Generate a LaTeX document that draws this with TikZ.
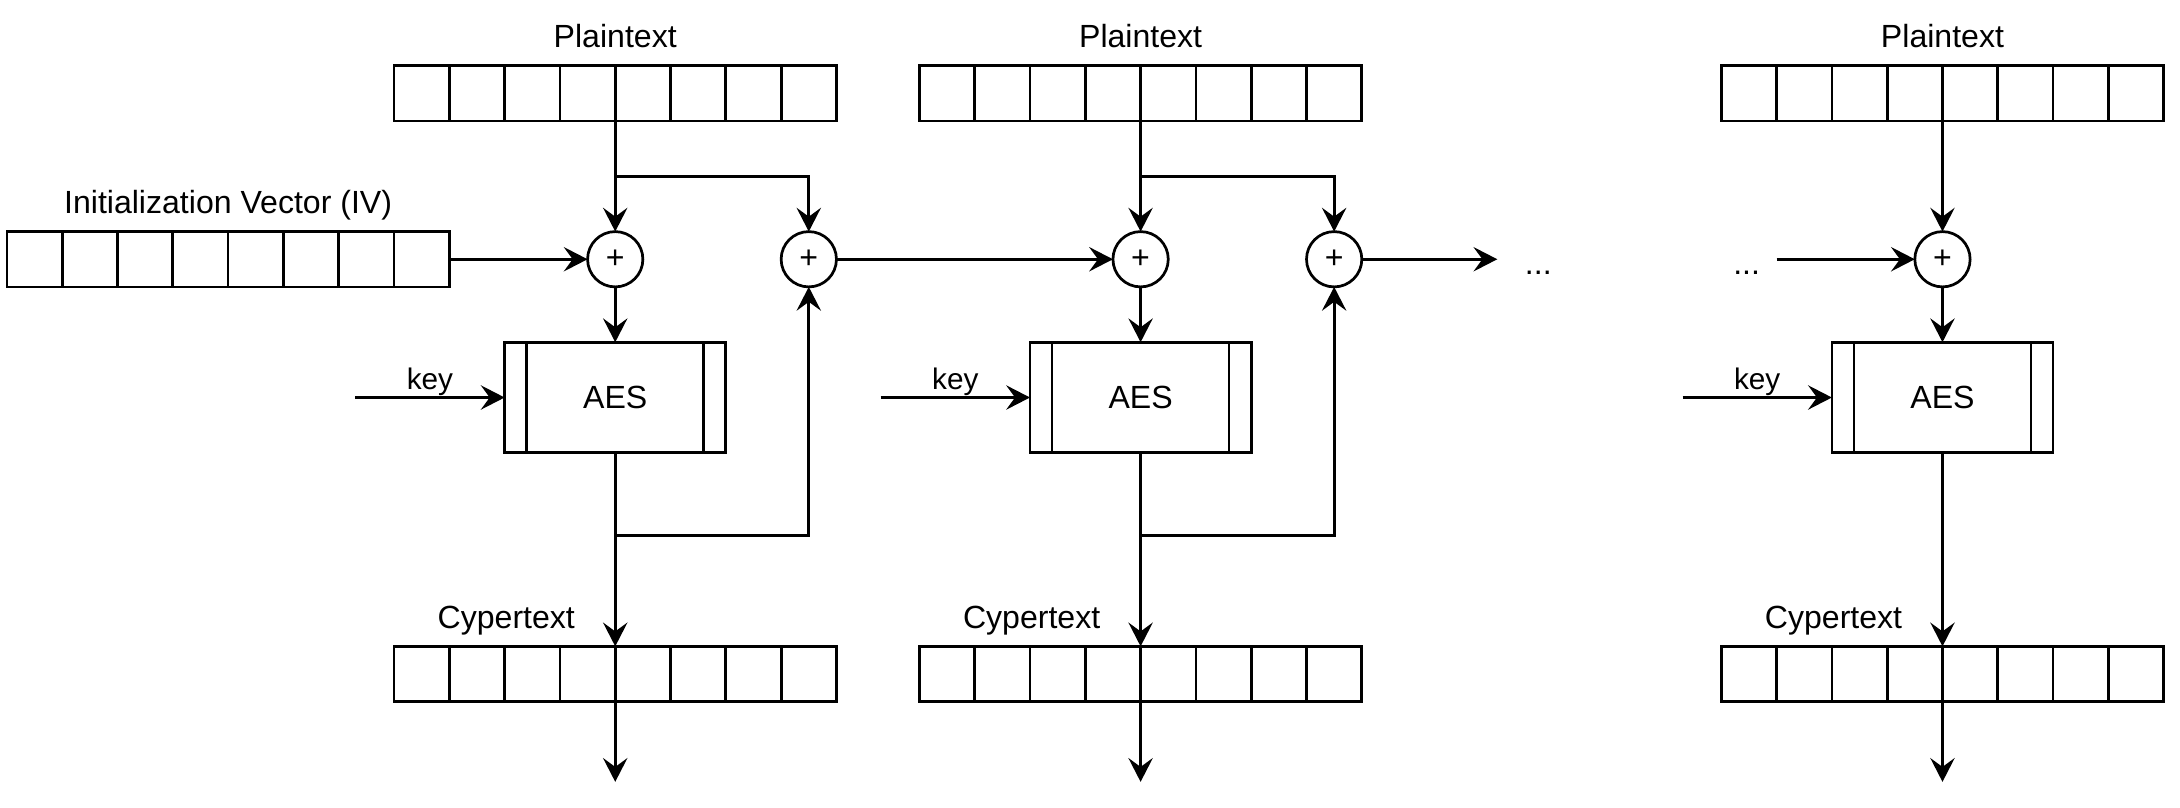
\documentclass[tikz,border=0pt]{standalone}
\usepackage{fontspec}
\setmainfont{Liberation Sans}
\usetikzlibrary{arrows.meta,positioning}

\begin{document}
\begin{tikzpicture}[->,>={Stealth[length=4.3mm,width=4.4mm,inset=1.6mm]},
                line width=1.4pt,node distance=1cm,font=\fontsize{16.5}{20}\selectfont,
                every node/.style={outer sep=0pt},
                register/.style={draw,minimum width=8cm,minimum height=1cm,inner sep=0pt,
                  path picture={\foreach \i in {1,...,7}
                    \draw[-] ([xshift=\i cm]path picture bounding box.south west)
                      -- ([xshift=\i cm]path picture bounding box.north west);}},
                xor/.style={circle,draw,minimum size=1cm,inner sep=0pt},
                cipher/.style={draw,minimum width=4cm,minimum height=2cm,inner sep=0pt,
                  path picture={\draw[-] ([xshift=4mm]path picture bounding box.south west)
                      -- ([xshift=4mm]path picture bounding box.north west)
                    ([xshift=-4mm]path picture bounding box.south east)
                      -- ([xshift=-4mm]path picture bounding box.north east);}},
                regname/.style={anchor=base},
                dots/.style={inner sep=0pt},
                keytext/.style={above,inner sep=1pt,font=\fontsize{15.3}{18}\selectfont}]

  \useasboundingbox (0,0) rectangle (39.42,-14.61);

  % first block
  \node[register] (p1) at (11.125,-1.688) {};
  \node[regname] (pt1) [above=3.3mm of p1,anchor=base] {Plaintext};
  \node[xor] (x1) [below=2cm of p1] {+};
  \node[xor] (x2) [right=2.5cm of x1] {+};
  \node[register] (iv) [left=2.5cm of x1] {};
  \node[regname] (ivt) [above=3.3mm of iv,anchor=base] {Initialization Vector (IV)};
  \node[cipher] (a1) [below=of x1] {AES};
  \coordinate[left=2.7cm of a1] (k1);
  \node[register] (c1) [below=3.5cm of a1] {};
  \node[regname] (ct1) [above=3.3mm of c1,anchor=base,xshift=-1.97cm] {Cypertext};
  \coordinate[below=1.45cm of c1] (o1);
  \coordinate[below=of p1] (b1);
  \coordinate[below=1.5cm of a1] (f1);

  % second block
  \node[xor] (x3) [right=5cm of x2] {+};
  \node[register] (p2) [above=2cm of x3] {};
  \node[regname] (pt2) [above=3.3mm of p2,anchor=base] {Plaintext};
  \node[xor] (x4) [right=2.5cm of x3] {+};
  \node[cipher] (a2) [below=of x3] {AES};
  \coordinate[left=2.7cm of a2] (k2);
  \node[register] (c2) [below=3.5cm of a2] {};
  \node[regname] (ct2) [above=3.3mm of c2,anchor=base,xshift=-1.97cm] {Cypertext};
  \coordinate[below=1.45cm of c2] (o2);
  \coordinate[below=of p2] (b2);
  \coordinate[below=1.5cm of a2] (f2);
  \coordinate[right=2.45cm of x4] (e4);
  \node[dots] (d1) [right=5mm of e4,anchor=base west,yshift=-2.8mm] {...};

  % last block
  \node[register] (p3) [right=6.5cm of p2] {};
  \node[regname] (pt3) [above=3.3mm of p3,anchor=base] {Plaintext};
  \node[xor] (x5) [below=2cm of p3] {+};
  \coordinate[left=2.5cm of x5] (s5);
  \node[dots] (d2) [left=3mm of s5,anchor=base east,yshift=-2.8mm] {...};
  \node[cipher] (a3) [below=of x5] {AES};
  \coordinate[left=2.7cm of a3] (k3);
  \node[register] (c3) [below=3.5cm of a3] {};
  \node[regname] (ct3) [above=3.3mm of c3,anchor=base,xshift=-1.97cm] {Cypertext};
  \coordinate[below=1.45cm of c3] (o3);

  \path
    (p1) edge (x1)
    (iv) edge (x1)
    (x1) edge (a1)
    (k1) edge node[keytext] (kt1) {key} (a1)
    (a1) edge (c1)
    (c1) edge (o1)
    (x2) edge (x3)
    (p2) edge (x3)
    (x3) edge (a2)
    (k2) edge node[keytext] (kt2) {key} (a2)
    (a2) edge (c2)
    (c2) edge (o2)
    (x4) edge (e4)
    (s5) edge (x5)
    (p3) edge (x5)
    (x5) edge (a3)
    (k3) edge node[keytext] (kt3) {key} (a3)
    (a3) edge (c3)
    (c3) edge (o3);
  \draw (b1) -| (x2);
  \draw (f1) -| (x2);
  \draw (b2) -| (x4);
  \draw (f2) -| (x4);
\end{tikzpicture}
\end{document}
